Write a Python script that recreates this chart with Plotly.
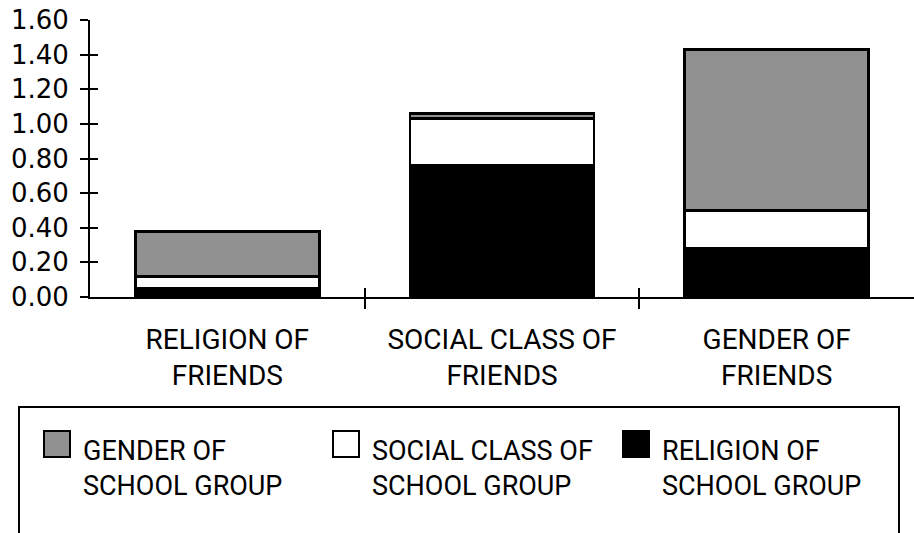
import plotly.graph_objects as go

# Friendship categories on the x axis
categories = ["RELIGION OF<br>FRIENDS", "SOCIAL CLASS OF<br>FRIENDS", "GENDER OF<br>FRIENDS"]
cat_pos = [0, 1, 2]

# Stacked components (bottom to top)
religion_school = [0.05, 0.76, 0.28]
social_school = [0.07, 0.27, 0.22]
gender_school = [0.26, 0.03, 0.93]

series_names = ["RELIGION OF<br>SCHOOL GROUP", "SOCIAL CLASS OF<br>SCHOOL GROUP", "GENDER OF<br>SCHOOL GROUP"]
series_values = [religion_school, social_school, gender_school]
series_colors = ["#000000", "#ffffff", "#909090"]

y_ticks = [0.0, 0.2, 0.4, 0.6, 0.8, 1.0, 1.2, 1.4, 1.6]

TEXT_FONT = "Roboto, Liberation Sans, Arial, sans-serif"
NUM_FONT = "DejaVu Sans, Verdana, sans-serif"

# Figure geometry (pixels)
W, H = 914, 533
ML, MT, MB = 90, 20, 236
PW, PH = W - ML, H - MT - MB


def px_x(px):
    return (px - ML) / PW


def px_y(py):
    return (H - MB - py) / PH


fig = go.Figure()
for name, vals, col in zip(series_names, series_values, series_colors):
    fig.add_trace(go.Bar(
        x=cat_pos, y=vals, name=name, width=0.67, showlegend=False,
        marker=dict(color=col, line=dict(color="#000000", width=2.8)),
    ))

# Hand-built legend box (large square swatches, legend order reversed)
shapes = [dict(
    type="rect", xref="paper", yref="paper",
    x0=px_x(19), x1=px_x(899), y0=px_y(560), y1=px_y(407),
    line=dict(color="#000000", width=2), fillcolor="rgba(0,0,0,0)", layer="below",
)]
annotations = []
legend_left = [43, 332, 622]
for left, name, col in zip(legend_left, series_names[::-1], series_colors[::-1]):
    shapes.append(dict(
        type="rect", xref="paper", yref="paper",
        x0=px_x(left + 1), x1=px_x(left + 27), y0=px_y(457), y1=px_y(431),
        line=dict(color="#000000", width=2), fillcolor=col,
    ))
    annotations.append(dict(
        xref="paper", yref="paper", x=px_x(left + 38), y=px_y(433),
        xanchor="left", yanchor="top", align="left", showarrow=False,
        text=name, font=dict(family=TEXT_FONT, size=27, color="#000000"),
    ))

fig.update_layout(
    width=W, height=H, autosize=False,
    barmode="stack",
    plot_bgcolor="white", paper_bgcolor="white",
    margin=dict(l=ML, r=0, t=MT, b=MB, pad=0, autoexpand=False),
    showlegend=False,
    xaxis=dict(
        range=[-0.5, 2.5], showgrid=False, zeroline=False,
        showline=True, linecolor="#000000", linewidth=2,
        tickmode="array", tickvals=cat_pos, ticktext=categories,
        ticks="", ticklabelstandoff=16,
        tickfont=dict(family=TEXT_FONT, size=28, color="#000000"),
        minor=dict(tickmode="array", tickvals=[0.5, 1.5], ticks="outside",
                   ticklen=10, tickwidth=2, tickcolor="#000000"),
        automargin=False, fixedrange=True,
    ),
    xaxis2=dict(
        overlaying="x", matches="x", side="bottom", showgrid=False, zeroline=False,
        showline=False, tickmode="array", tickvals=[0.5, 1.5], ticks="inside",
        ticklen=9, tickwidth=2, tickcolor="#000000", showticklabels=False,
        automargin=False,
    ),
    yaxis=dict(
        range=[0, 1.6], showgrid=False, zeroline=False,
        showline=True, linecolor="#000000", linewidth=2,
        tickmode="array", tickvals=y_ticks, tickformat=".2f",
        ticks="outside", ticklen=8, tickwidth=2, tickcolor="#000000",
        ticklabelstandoff=6,
        tickfont=dict(family=NUM_FONT, size=26, color="#000000"),
        automargin=False, fixedrange=True,
    ),
    yaxis2=dict(
        overlaying="y", matches="y", side="left", showgrid=False, zeroline=False,
        showline=False, tickmode="array", tickvals=y_ticks, ticks="inside",
        ticklen=8, tickwidth=2, tickcolor="#000000", showticklabels=False,
        automargin=False,
    ),
    shapes=shapes,
    annotations=annotations,
)

# Invisible helper trace so the overlay axes are drawn
fig.add_trace(go.Scatter(x=[0], y=[0], xaxis="x2", yaxis="y2", mode="markers",
                         marker=dict(opacity=0), showlegend=False, hoverinfo="skip"))

fig.write_html("out.html", config={"displayModeBar": False})
